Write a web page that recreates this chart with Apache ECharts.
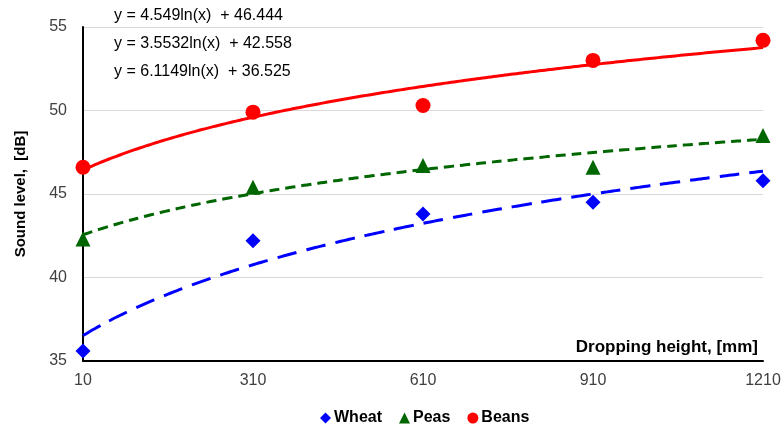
<!DOCTYPE html>
<html>
<head>
<meta charset="utf-8">
<script src="https://cdn.jsdelivr.net/npm/echarts@6/dist/echarts.min.js"></script>
<style>
  html, body { margin: 0; padding: 0; background: #fff; }
  #chart { width: 784px; height: 430px; }
</style>
</head>
<body>
<div id="chart"></div>
<script>
// dropping heights, mm
const heights = [10, 310, 610, 910, 1210];

// measured sound levels, dB
const wheat = [35.6, 42.2, 43.8, 44.5, 45.8];
const peas = [42.3, 45.4, 46.7, 46.6, 48.5];
const beans = [46.6, 49.9, 50.3, 53.0, 54.2];

// log trendlines as printed on the chart: y = a*ln(i) + b, i = point number (1..5)
const trendA = { wheat: 6.1149, peas: 3.5532, beans: 4.549 };
const trendB = { wheat: 36.525, peas: 42.558, beans: 46.444 };
const equations = [
  'y = 4.549ln(x)  + 46.444',
  'y = 3.5532ln(x)  + 42.558',
  'y = 6.1149ln(x)  + 36.525',
];

const FONT = '"Liberation Sans", Arial, sans-serif';

function trend(key) {
  const pts = [];
  const step = 300 / 30;
  for (let x = heights[0]; x <= heights[heights.length - 1] + 0.001; x += step) {
    const i = (x - heights[0]) / 300 + 1;
    pts.push([x, trendA[key] * Math.log(i) + trendB[key]]);
  }
  return pts;
}

function pairs(vals) {
  return heights.map((h, i) => [h, vals[i]]);
}

const chart = echarts.init(document.getElementById('chart'));

chart.setOption({
  animation: false,
  textStyle: { fontFamily: FONT },
  grid: { left: 83, right: 21, top: 27, bottom: 69 },
  legend: {
    top: 410,
    left: 320,
    padding: 0,
    itemWidth: 11,
    itemHeight: 11,
    itemGap: 17,
    textStyle: { fontSize: 16, fontWeight: 'bold', color: '#000', fontFamily: FONT, padding: [0, 0, 0, -2] },
    data: [
      { name: 'Wheat', icon: 'diamond' },
      { name: 'Peas', icon: 'triangle' },
      { name: 'Beans', icon: 'circle' },
    ],
  },
  xAxis: {
    type: 'value',
    min: 10,
    max: 1210,
    interval: 300,
    axisLine: { lineStyle: { color: '#000', width: 2 } },
    axisTick: { show: false },
    splitLine: { show: false },
    axisLabel: { fontSize: 16, color: '#404040', margin: 12, fontFamily: FONT, formatter: (v) => String(v) },
  },
  yAxis: {
    type: 'value',
    min: 35,
    max: 55,
    interval: 5,
    name: 'Sound level,  [dB]',
    nameLocation: 'middle',
    nameGap: 55,
    nameTextStyle: { fontSize: 15, fontWeight: 'bold', color: '#000', fontFamily: FONT },
    axisLine: { show: true, lineStyle: { color: '#000', width: 2 } },
    axisTick: { show: false },
    splitLine: { lineStyle: { color: '#d9d9d9', width: 1 } },
    axisLabel: { fontSize: 16, color: '#404040', margin: 16, fontFamily: FONT },
  },
  graphic: [
    {
      type: 'text',
      right: 26,
      top: 339,
      style: { text: 'Dropping height, [mm]', font: 'bold 17px ' + FONT, fill: '#000' },
    },
    ...equations.map((t, k) => ({
      type: 'text',
      left: 114,
      top: 8 + k * 28,
      style: { text: t, font: '16px ' + FONT, fill: '#000' },
    })),
  ],
  series: [
    {
      name: 'Wheat trend',
      type: 'line',
      data: trend('wheat'),
      showSymbol: false,
      smooth: true,
      lineStyle: { color: '#0000ff', width: 3, type: [20, 10] },
      z: 2,
    },
    {
      name: 'Peas trend',
      type: 'line',
      data: trend('peas'),
      showSymbol: false,
      smooth: true,
      lineStyle: { color: '#006600', width: 3, type: [10, 6] },
      z: 2,
    },
    {
      name: 'Beans trend',
      type: 'line',
      data: trend('beans'),
      showSymbol: false,
      smooth: true,
      lineStyle: { color: '#ff0000', width: 3 },
      z: 2,
    },
    {
      name: 'Wheat',
      type: 'scatter',
      data: pairs(wheat),
      symbol: 'diamond',
      symbolSize: 15,
      itemStyle: { color: '#0000ff', opacity: 1 },
      z: 3,
    },
    {
      name: 'Peas',
      type: 'scatter',
      data: pairs(peas),
      symbol: 'triangle',
      symbolSize: 15,
      itemStyle: { color: '#006600', opacity: 1 },
      z: 3,
    },
    {
      name: 'Beans',
      type: 'scatter',
      data: pairs(beans),
      symbol: 'circle',
      symbolSize: 15,
      itemStyle: { color: '#ff0000', opacity: 1 },
      z: 3,
    },
  ],
});
</script>
</body>
</html>
